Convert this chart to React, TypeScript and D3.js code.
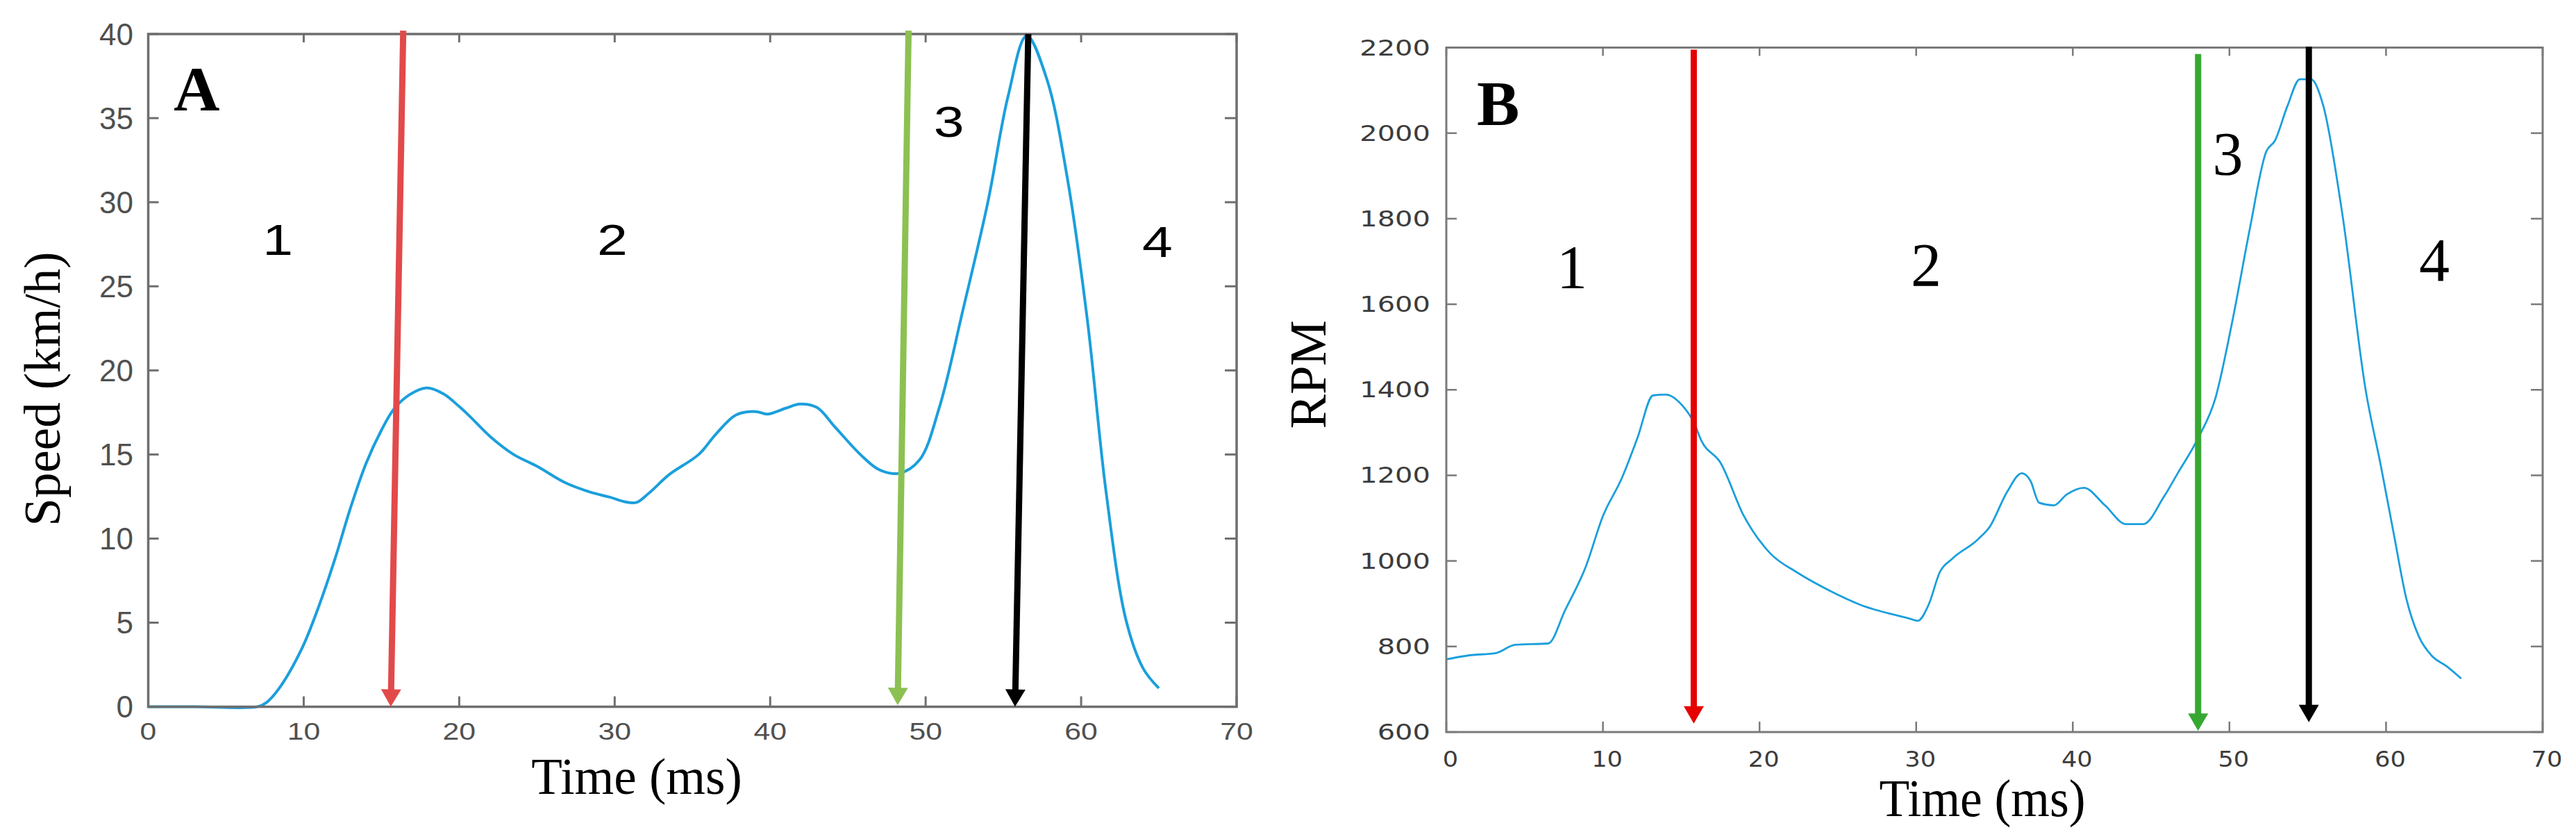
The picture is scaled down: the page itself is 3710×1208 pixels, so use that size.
import * as d3 from "d3";

const TIME_TICKS = [0, 10, 20, 30, 40, 50, 60, 70];
const SPEED_TICKS = [0, 5, 10, 15, 20, 25, 30, 35, 40];
const RPM_TICKS = [600, 800, 1000, 1200, 1400, 1600, 1800, 2000, 2200];

// panel A: speed (km/h) vs time (ms)
const SPEED_TIME = [
  0, 3, 7, 7.6, 8.4, 9.9, 11, 12, 13, 14, 15, 15.8, 16.8, 17.9, 19, 20, 20.7, 22, 23.5, 25,
  26.8, 28.4, 29.7, 30.6, 31.4, 32.2, 33.5, 35.4, 36.5, 37.8, 39.1, 39.8, 41, 41.9, 43,
  44.2, 45.8, 47, 48.3, 49.6, 50.9, 52.4, 54, 55.3, 56.5, 57.8, 59.1, 60.4, 61.6, 62.9, 64, 65,
];
const SPEED_KMH = [
  0, 0, 0, 0.25, 1.07, 3.5, 6.05, 8.76, 11.8, 14.45, 16.45, 17.7, 18.55, 18.96, 18.6, 17.85,
  17.25, 16.06, 15.0, 14.3, 13.33, 12.77, 12.46, 12.2, 12.15, 12.7, 13.8, 15.0, 16.2, 17.35,
  17.55, 17.4, 17.75, 18.0, 17.8, 16.6, 15.0, 14.1, 13.88, 14.67, 17.86, 23.6, 30.0, 36.3,
  39.9, 37.3, 31.5, 23.0, 12.8, 5.1, 2.26, 1.1,
];

// panel B: engine RPM vs time (ms)
const RPM_TIME = [
  0, 1.4, 3.2, 4.4, 6.5, 7.6, 8.9, 10, 11.2, 12.2, 13.2, 14, 15.1, 15.8, 16.3, 17.5, 19, 20.7,
  22.4, 24.5, 26.4, 29.6, 30.1, 30.8, 31.5, 32.3, 33.9, 34.7, 35.8, 36.75, 37.3, 37.85, 38.8,
  39.6, 40.7, 42.05, 43.4, 44.5, 45.8, 46.7, 48, 49.1, 50.2, 51.3, 52.35, 52.9, 53.7, 54.5,
  55.2, 56, 57.2, 58.7, 59.66, 60.5, 61.3, 62.1, 62.9, 63.86, 64.8,
];
const RPM_VALUE = [
  770, 779, 785, 804, 807, 886, 986, 1105, 1193, 1287, 1387, 1389, 1362, 1324, 1280, 1230,
  1105, 1017, 973, 930, 898, 865, 860, 898, 973, 1005, 1049, 1080, 1161, 1205, 1187, 1136,
  1130, 1155, 1171, 1130, 1086, 1086, 1149, 1205, 1287, 1380, 1563, 1776, 1957, 1982, 2063,
  2126, 2126, 2063, 1813, 1399, 1224, 1062, 911, 823, 779, 754, 725,
];

const SPEED_ARROWS = [
  { color: "#e24a4a", from: [16.4, 40.2], to: [15.6, 0] },
  { color: "#8cc152", from: [48.9, 40.2], to: [48.2, 0.1] },
  { color: "#000000", from: [56.6, 40], to: [55.75, 0] },
];
const RPM_ARROWS = [
  { color: "#e60000", from: [15.8, 2195], to: [15.8, 620] },
  { color: "#36a832", from: [48, 2185], to: [48, 603] },
  { color: "#000000", from: [55.07, 2202], to: [55.07, 623] },
];

const SPEED_PHASES = [
  { text: "1", t: 8.33, v: 26.85 },
  { text: "2", t: 29.85, v: 26.85 },
  { text: "3", t: 51.5, v: 33.87 },
  { text: "4", t: 64.9, v: 26.76 },
];
const RPM_PHASES = [
  { text: "1", t: 8.02, v: 1639 },
  { text: "2", t: 30.63, v: 1644 },
  { text: "3", t: 49.9, v: 1904 },
  { text: "4", t: 63.08, v: 1655 },
];

const SANS = "'Liberation Sans', Arial, sans-serif";
const WIDE = "'DejaVu Sans', Verdana, sans-serif";
const SERIF = "'Liberation Serif', 'Times New Roman', serif";

type Arrow = { color: string; from: number[]; to: number[] };
type Phase = { text: string; t: number; v: number };

interface PanelProps {
  box: { left: number; right: number; top: number; bottom: number };
  yDomain: [number, number];
  yTicks: number[];
  times: number[];
  values: number[];
  curve: d3.CurveFactory;
  arrows: Arrow[];
  phases: Phase[];
  letter: { text: string; t: number; v: number };
  yTitle: { text: string; x: number; y: number };
  xTitle: { x: number; y: number; size: number; sx: number };
  s: {
    frame: string;
    frameW: number;
    lineW: number;
    yTickFont: string;
    yTickSize: number;
    yTickSx: number;
    yTickRight: number;
    tickFill: string;
    xTickFont: string;
    xTickSize: number;
    xTickSx: number;
    xTickY: number;
    xTickDx: number;
    phaseFont: string;
    phaseSize: number;
    phaseSx: number;
    yTitleSize: number;
  };
}

function Panel({ box, yDomain, yTicks, times, values, curve, arrows, phases, letter, yTitle, xTitle, s }: PanelProps) {
  const x = d3.scaleLinear().domain([0, 70]).range([box.left, box.right]);
  const y = d3.scaleLinear().domain(yDomain).range([box.bottom, box.top]);
  const pts = times.map((t, i) => [t, values[i]] as [number, number]);
  const line = d3
    .line<[number, number]>()
    .x((d) => x(d[0]))
    .y((d) => Math.min(y(d[1]), box.bottom))
    .curve(curve);

  const tick = 15;
  const headL = 25;
  const headW = 29;

  return (
    <g>
      {/* curve */}
      <path d={line(pts)!} fill="none" stroke="#1b9fdc" strokeWidth={s.lineW} strokeLinejoin="round" />

      {/* frame + ticks */}
      <rect
        x={box.left}
        y={box.top}
        width={box.right - box.left}
        height={box.bottom - box.top}
        fill="none"
        stroke={s.frame}
        strokeWidth={s.frameW}
      />
      {TIME_TICKS.map((t) => (
        <g key={"xt" + t} stroke={s.frame} strokeWidth={s.frameW - 0.5}>
          <line x1={x(t)} x2={x(t)} y1={box.bottom} y2={box.bottom - tick} />
          <line x1={x(t)} x2={x(t)} y1={box.top} y2={box.top + tick - 3} />
        </g>
      ))}
      {yTicks.map((v) => (
        <g key={"yt" + v} stroke={s.frame} strokeWidth={s.frameW - 0.5}>
          <line x1={box.left} x2={box.left + tick} y1={y(v)} y2={y(v)} />
          <line x1={box.right} x2={box.right - tick - 2} y1={y(v)} y2={y(v)} />
        </g>
      ))}

      {/* tick labels */}
      {yTicks.map((v) => (
        <text
          key={"yl" + v}
          transform={`translate(${s.yTickRight},${y(v)}) scale(${s.yTickSx},1)`}
          textAnchor="end"
          dominantBaseline="central"
          fontFamily={s.yTickFont}
          fontSize={s.yTickSize}
          fill={s.tickFill}
        >
          {v}
        </text>
      ))}
      {TIME_TICKS.map((t) => (
        <text
          key={"xl" + t}
          transform={`translate(${x(t) + s.xTickDx},${s.xTickY}) scale(${s.xTickSx},1)`}
          textAnchor="middle"
          dominantBaseline="central"
          fontFamily={s.xTickFont}
          fontSize={s.xTickSize}
          fill={s.tickFill}
        >
          {t}
        </text>
      ))}

      {/* phase arrows */}
      {arrows.map((a, i) => {
        const x0 = x(a.from[0]);
        const y0 = y(a.from[1]);
        const x1 = x(a.to[0]);
        const y1 = y(a.to[1]);
        const len = Math.hypot(x1 - x0, y1 - y0);
        const ux = (x1 - x0) / len;
        const uy = (y1 - y0) / len;
        const bx = x1 - ux * headL;
        const by = y1 - uy * headL;
        const nx = -uy * (headW / 2);
        const ny = ux * (headW / 2);
        return (
          <g key={"ar" + i}>
            <line x1={x0} y1={y0} x2={bx + ux * 2} y2={by + uy * 2} stroke={a.color} strokeWidth={9} />
            <polygon points={`${x1},${y1} ${bx + nx},${by + ny} ${bx - nx},${by - ny}`} fill={a.color} />
          </g>
        );
      })}

      {/* phase numbers */}
      {phases.map((p) => (
        <text
          key={"ph" + p.text}
          transform={`translate(${x(p.t)},${y(p.v)}) scale(${s.phaseSx},1)`}
          textAnchor="middle"
          fontFamily={s.phaseFont}
          fontSize={s.phaseSize}
          fill="#000"
        >
          {p.text}
        </text>
      ))}

      {/* panel letter */}
      <text x={x(letter.t)} y={y(letter.v)} fontFamily={SERIF} fontWeight="bold" fontSize={92} fill="#000">
        {letter.text}
      </text>

      {/* axis titles */}
      <text
        transform={`translate(${xTitle.x},${xTitle.y}) scale(${xTitle.sx},1)`}
        textAnchor="middle"
        fontFamily={SERIF}
        fontSize={xTitle.size}
        fill="#000"
      >
        Time (ms)
      </text>
      <text
        transform={`translate(${yTitle.x},${yTitle.y}) rotate(-90)`}
        textAnchor="middle"
        fontFamily={SERIF}
        fontSize={s.yTitleSize}
        fill="#000"
      >
        {yTitle.text}
      </text>
    </g>
  );
}

export default function App() {
  return (
    <svg
      width={3710}
      height={1208}
      viewBox="0 0 3710 1208"
      style={{ position: "absolute", left: 0, top: 0, background: "#fff" }}
    >
      <rect width={3710} height={1208} fill="#fff" />
      <Panel
        box={{ left: 213.5, right: 1781, top: 49, bottom: 1017.6 }}
        yDomain={[0, 40]}
        yTicks={SPEED_TICKS}
        times={SPEED_TIME}
        values={SPEED_KMH}
        curve={d3.curveCatmullRom.alpha(0.5)}
        arrows={SPEED_ARROWS}
        phases={SPEED_PHASES}
        letter={{ text: "A", t: 1.63, v: 35.47 }}
        yTitle={{ text: "Speed (km/h)", x: 86, y: 560 }}
        xTitle={{ x: 917, y: 1143, size: 73, sx: 1 }}
        s={{
          frame: "#6e6e6e",
          frameW: 3.5,
          lineW: 4,
          yTickFont: SANS,
          yTickSize: 44,
          yTickSx: 1,
          yTickRight: 192,
          tickFill: "#505050",
          xTickFont: SANS,
          xTickSize: 35,
          xTickSx: 1.22,
          xTickY: 1053,
          xTickDx: 0,
          phaseFont: SANS,
          phaseSize: 63,
          phaseSx: 1.25,
          yTitleSize: 73,
        }}
      />
      <Panel
        box={{ left: 2083, right: 3662, top: 68.5, bottom: 1054 }}
        yDomain={[600, 2200]}
        yTicks={RPM_TICKS}
        times={RPM_TIME}
        values={RPM_VALUE}
        curve={d3.curveMonotoneX}
        arrows={RPM_ARROWS}
        phases={RPM_PHASES}
        letter={{ text: "B", t: 1.95, v: 2019.5 }}
        yTitle={{ text: "RPM", x: 1909, y: 539 }}
        xTitle={{ x: 2855, y: 1175, size: 76, sx: 0.94 }}
        s={{
          frame: "#7a7a7a",
          frameW: 3,
          lineW: 2.8,
          yTickFont: WIDE,
          yTickSize: 32,
          yTickSx: 1.25,
          yTickRight: 2060,
          tickFill: "#3c3c3c",
          xTickFont: WIDE,
          xTickSize: 32,
          xTickSx: 1.1,
          xTickY: 1093.5,
          xTickDx: 6,
          phaseFont: SERIF,
          phaseSize: 88,
          phaseSx: 1,
          yTitleSize: 74,
        }}
      />
    </svg>
  );
}
